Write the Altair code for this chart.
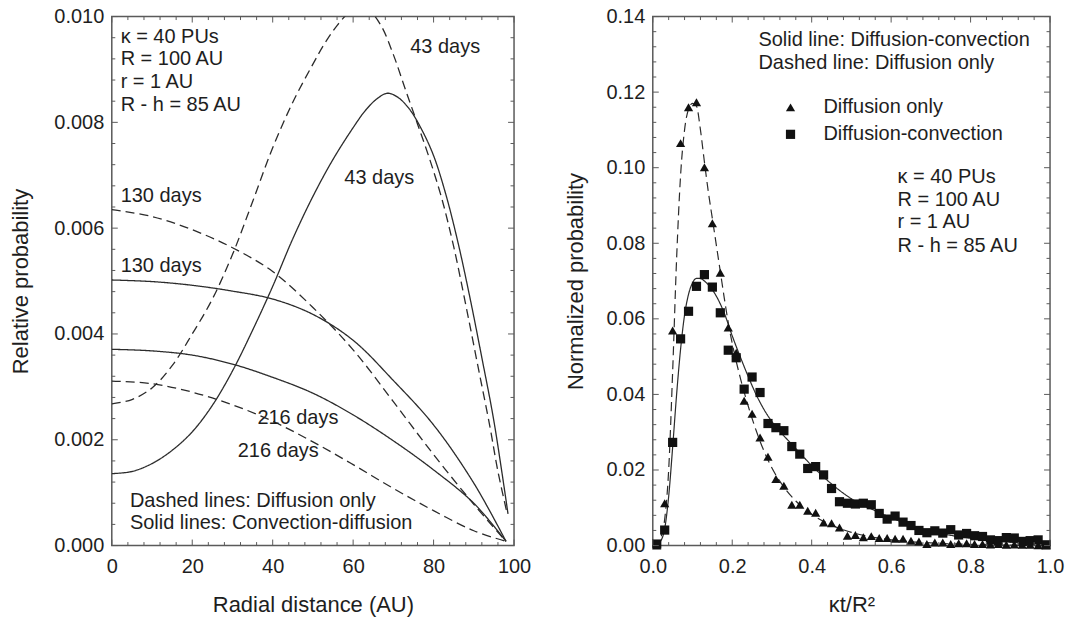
import altair as alt
import pandas as pd

FONT = "Liberation Sans"
LC = "#2b2b2b"   # line colour
TC = "#1e1e1e"   # text colour
AX = "#5a5a5a"   # frame / tick colour

# ---------------- left panel: relative probability vs radial distance ----------------
x_43s = [0, 5, 10, 15, 20, 25, 30, 35, 40, 45, 50, 55, 60, 63, 66, 68.5, 71, 74, 77, 80, 83, 86, 89, 92, 95, 98.5]
y_43s = [0.00136, 0.00140, 0.00155, 0.00180, 0.00215, 0.00265, 0.00330, 0.00407, 0.00490, 0.00580,
         0.00660, 0.00730, 0.00790, 0.00822, 0.00845, 0.00855, 0.00848, 0.00825, 0.00787, 0.00737,
         0.00665, 0.00575, 0.00470, 0.00355, 0.00235, 0.00060]

x_43d = [0, 5, 10, 15, 20, 25, 30, 35, 40, 45, 50, 53, 56, 59, 61.5, 64, 67, 70, 73, 76, 79, 82, 85,
         88, 91, 94, 96, 98.3]
y_43d = [0.00268, 0.00276, 0.00298, 0.00340, 0.00400, 0.00466, 0.00550, 0.00650, 0.00752, 0.00838,
         0.00910, 0.00950, 0.00983, 0.01008, 0.01020, 0.01012, 0.00982, 0.00928, 0.00862, 0.00797,
         0.00731, 0.00657, 0.00565, 0.00455, 0.00340, 0.00225, 0.00140, 0.00060]

x_long = [0, 10, 20, 30, 40, 50, 60, 70, 80, 90, 98]
y_130s = [0.00502, 0.00499, 0.00492, 0.00481, 0.00466, 0.00437, 0.00388, 0.00312, 0.00228, 0.00118, 0.00008]
y_130d = [0.00635, 0.00622, 0.00597, 0.00563, 0.00518, 0.00450, 0.00370, 0.00272, 0.00172, 0.00078, 0.00008]
y_216s = [0.00371, 0.00368, 0.00360, 0.00343, 0.00318, 0.00288, 0.00247, 0.00198, 0.00143, 0.00080, 0.00008]
y_216d = [0.00311, 0.00306, 0.00290, 0.00266, 0.00235, 0.00196, 0.00153, 0.00108, 0.00066, 0.00028, 0.00008]

left_text = ["κ = 40 PUs", "R = 100 AU", "r = 1 AU", "R - h = 85 AU",
             "43 days", "43 days", "130 days", "130 days", "216 days", "216 days",
             "Dashed lines: Diffusion only", "Solid lines: Convection-diffusion"]
left_tx = [2.2, 2.2, 2.2, 2.2, 74.2, 57.8, 2.2, 2.2, 36.2, 31.3, 4.5, 4.5]
left_ty = [0.00962, 0.00920, 0.00877, 0.00833, 0.00943, 0.00694, 0.00660, 0.00528,
           0.00241, 0.00179, 0.00085, 0.00042]

# ---------------- right panel: normalized probability vs kt/R^2 ----------------
t_pts = [0.01, 0.03, 0.05, 0.07, 0.09, 0.11, 0.13, 0.15, 0.17, 0.19,
         0.21, 0.23, 0.25, 0.27, 0.29, 0.31, 0.33, 0.35, 0.37, 0.39,
         0.41, 0.43, 0.45, 0.47, 0.49, 0.51, 0.53, 0.55, 0.57, 0.59,
         0.61, 0.63, 0.65, 0.67, 0.69, 0.71, 0.73, 0.75, 0.77, 0.79,
         0.81, 0.83, 0.85, 0.87, 0.89, 0.91, 0.93, 0.95, 0.97, 0.99]
p_diff = [0.0000, 0.0112, 0.0569, 0.1065, 0.1160, 0.1173, 0.1001, 0.0853, 0.0722, 0.0577,
          0.0510, 0.0383, 0.0349, 0.0286, 0.0235, 0.0176, 0.0158, 0.0108, 0.0108, 0.0092,
          0.0087, 0.0061, 0.0059, 0.0048, 0.0026, 0.0028, 0.0022, 0.0025, 0.0020, 0.0020,
          0.0018, 0.0018, 0.0013, 0.0011, 0.0004, 0.0008, 0.0008, 0.0004, 0.0006, 0.0006,
          0.0004, 0.0004, 0.0003, 0.0004, 0.0002, 0.0003, 0.0002, 0.0002, 0.0001, 0.0001]
p_conv = [0.0004, 0.0041, 0.0273, 0.0547, 0.0620, 0.0686, 0.0717, 0.0684, 0.0616, 0.0517,
          0.0497, 0.0414, 0.0446, 0.0405, 0.0323, 0.0312, 0.0304, 0.0262, 0.0242, 0.0204,
          0.0209, 0.0187, 0.0151, 0.0116, 0.0112, 0.0110, 0.0112, 0.0108, 0.0085, 0.0070,
          0.0078, 0.0062, 0.0053, 0.0040, 0.0034, 0.0039, 0.0033, 0.0042, 0.0028, 0.0032,
          0.0026, 0.0024, 0.0015, 0.0013, 0.0021, 0.0020, 0.0011, 0.0013, 0.0015, 0.0002]

t_dash = [0.0, 0.01, 0.02, 0.03, 0.04, 0.05, 0.06, 0.07, 0.08, 0.09, 0.10, 0.11, 0.12, 0.13,
          0.14, 0.15, 0.16, 0.17, 0.18, 0.19, 0.20, 0.22, 0.24, 0.26, 0.28, 0.30, 0.33, 0.36,
          0.40, 0.45, 0.50, 0.55, 0.60, 0.70, 0.80, 0.90, 1.0]
c_dash = [0.0, 0.0002, 0.002, 0.007, 0.020, 0.046, 0.076, 0.098, 0.110, 0.1155, 0.117, 0.1163,
          0.110, 0.1015, 0.0935, 0.0865, 0.0795, 0.0725, 0.0655, 0.059, 0.0535, 0.0445, 0.0370,
          0.0305, 0.0250, 0.0205, 0.0155, 0.0118, 0.0083, 0.0054, 0.0035, 0.0023, 0.0015,
          0.0007, 0.0003, 0.0001, 0.0]
t_sol = [0.0, 0.01, 0.02, 0.03, 0.04, 0.05, 0.06, 0.07, 0.08, 0.09, 0.10, 0.11, 0.12, 0.13,
         0.14, 0.16, 0.18, 0.20, 0.22, 0.24, 0.26, 0.28, 0.30, 0.32, 0.35, 0.40, 0.45, 0.50,
         0.55, 0.60, 0.65, 0.70, 0.75, 0.80, 0.85, 0.90, 0.95, 1.0]
c_sol = [0.0, 0.0002, 0.0012, 0.0045, 0.013, 0.026, 0.040, 0.052, 0.061, 0.0665, 0.0695, 0.0707,
         0.0707, 0.0700, 0.0690, 0.0660, 0.0615, 0.0555, 0.0500, 0.0448, 0.0400, 0.0360, 0.0328,
         0.0302, 0.0268, 0.0212, 0.0163, 0.0124, 0.0097, 0.0074, 0.0053, 0.0038, 0.0027,
         0.0019, 0.0013, 0.0009, 0.0006, 0.0004]

right_text = ["Solid line: Diffusion-convection", "Dashed line: Diffusion only",
              "κ = 40 PUs", "R = 100 AU", "r = 1 AU", "R - h = 85 AU"]
right_tx = [0.266, 0.266, 0.616, 0.616, 0.616, 0.616]
right_ty = [0.1338, 0.1277, 0.0975, 0.0915, 0.0855, 0.0794]

series_names = ["Diffusion only", "Diffusion-convection"]

# tick positions
lx_major = [0, 20, 40, 60, 80, 100]
lx_minor = [v for v in range(0, 101, 4) if v % 20 != 0]
ly_major = [0.0, 0.002, 0.004, 0.006, 0.008, 0.010]
ly_minor = [round(i * 0.0004, 5) for i in range(26) if i % 5 != 0]
rx_major = [0.0, 0.2, 0.4, 0.6, 0.8, 1.0]
rx_minor = [round(i * 0.04, 3) for i in range(26) if i % 5 != 0]
ry_major = [0.0, 0.02, 0.04, 0.06, 0.08, 0.10, 0.12, 0.14]
ry_minor = [round(i * 0.004, 4) for i in range(36) if i % 5 != 0]

LW, RW, H = 403, 398, 530

axis_common = dict(ticks=False, domain=False, grid=False, labelFlush=False, labelFont=FONT,
                   labelFontSize=20, labelColor=TC, titleFont=FONT, titleFontSize=22,
                   titleColor=TC, titleFontWeight="normal")


def curves(spec):
    rows = []
    for name, style, xs, ys in spec:
        for a, b in zip(xs, ys):
            rows.append({"x": a, "y": b, "curve": name, "style": style})
    return pd.DataFrame(rows)


def tick_layers(xmaj, xmin, ymaj, ymin, W, sx, sy, ax, ay):
    out = []
    for vals, L in ((xmaj, 6), (xmin, 3.5)):
        d = pd.DataFrame({"v": vals})
        b = alt.Chart(d).mark_rule(color=AX, strokeWidth=1)
        out.append(b.encode(x=alt.X("v:Q", scale=sx, axis=ax), y=alt.value(H), y2=alt.value(H - L)))
        out.append(b.encode(x=alt.X("v:Q", scale=sx, axis=ax), y=alt.value(0), y2=alt.value(L)))
    for vals, L in ((ymaj, 6), (ymin, 3.5)):
        d = pd.DataFrame({"v": vals})
        b = alt.Chart(d).mark_rule(color=AX, strokeWidth=1)
        out.append(b.encode(y=alt.Y("v:Q", scale=sy, axis=ay), x=alt.value(0), x2=alt.value(L)))
        out.append(b.encode(y=alt.Y("v:Q", scale=sy, axis=ay), x=alt.value(W), x2=alt.value(W - L)))
    return out


dash_scale = alt.Scale(domain=["solid", "dashed"], range=[[1, 0], [9, 5]])

# ---------- left chart ----------
sxL = alt.Scale(domain=[0, 100], nice=False, zero=False, padding=0)
syL = alt.Scale(domain=[0, 0.010], nice=False, padding=0)
axL_x = alt.Axis(title="Radial distance (AU)", values=lx_major, format="d",
                 labelPadding=11, titlePadding=18, **axis_common)
axL_y = alt.Axis(title="Relative probability", values=ly_major, format=".3f",
                 labelPadding=8, titlePadding=21, **axis_common)

left_df = curves([
    ("43s", "solid", x_43s, y_43s), ("43d", "dashed", x_43d, y_43d),
    ("130s", "solid", x_long, y_130s), ("130d", "dashed", x_long, y_130d),
    ("216s", "solid", x_long, y_216s), ("216d", "dashed", x_long, y_216d),
])

left_lines = alt.Chart(left_df).mark_line(clip=True, color=LC, strokeWidth=1.3,
                                          interpolate="catmull-rom").encode(
    x=alt.X("x:Q", scale=sxL, axis=axL_x),
    y=alt.Y("y:Q", scale=syL, axis=axL_y),
    detail="curve:N",
    strokeDash=alt.StrokeDash("style:N", scale=dash_scale, legend=None),
)

left_txt = alt.Chart(pd.DataFrame({"t": left_text, "x": left_tx, "y": left_ty})).mark_text(
    align="left", baseline="middle", font=FONT, fontSize=20, color=TC
).encode(x=alt.X("x:Q", scale=sxL, axis=axL_x), y=alt.Y("y:Q", scale=syL, axis=axL_y), text="t:N")

left = alt.layer(left_lines, left_txt,
                 *tick_layers(lx_major, lx_minor, ly_major, ly_minor, LW, sxL, syL, axL_x, axL_y)
                 ).properties(width=LW, height=H)

# ---------- right chart ----------
sxR = alt.Scale(domain=[0, 1], nice=False, padding=0)
syR = alt.Scale(domain=[0, 0.14], nice=False, padding=0)
axR_x = alt.Axis(title="κt/R²", values=rx_major, format=".1f",
                 labelPadding=11, titlePadding=18, **axis_common)
axR_y = alt.Axis(title="Normalized probability", values=ry_major, format=".2f",
                 labelPadding=8, titlePadding=18, **axis_common)

right_df = curves([("dash", "dashed", t_dash, c_dash), ("sol", "solid", t_sol, c_sol)])
pts_df = pd.DataFrame({
    "x": t_pts + t_pts,
    "y": p_diff + p_conv,
    "series": [series_names[0]] * len(t_pts) + [series_names[1]] * len(t_pts),
})

right_lines = alt.Chart(right_df).mark_line(clip=True, color=LC, strokeWidth=1.2, interpolate="monotone").encode(
    x=alt.X("x:Q", scale=sxR, axis=axR_x),
    y=alt.Y("y:Q", scale=syR, axis=axR_y),
    detail="curve:N",
    strokeDash=alt.StrokeDash("style:N", scale=dash_scale, legend=None),
)

right_pts = alt.Chart(pts_df).mark_point(filled=True, color="#111111", opacity=1, size=85).encode(
    x=alt.X("x:Q", scale=sxR, axis=axR_x),
    y=alt.Y("y:Q", scale=syR, axis=axR_y),
    shape=alt.Shape("series:N", scale=alt.Scale(domain=series_names, range=["triangle-up", "square"]),
                    legend=alt.Legend(title=None, orient="none", legendX=128, legendY=81,
                                      labelFont=FONT, labelFontSize=20, labelColor=TC, labelLimit=0,
                                      symbolSize=85, symbolFillColor="#111111", symbolStrokeColor="#111111",
                                      symbolStrokeWidth=0, labelOffset=23, rowPadding=7, padding=0)),
)

right_txt = alt.Chart(pd.DataFrame({"t": right_text, "x": right_tx, "y": right_ty})).mark_text(
    align="left", baseline="middle", font=FONT, fontSize=20, color=TC
).encode(x=alt.X("x:Q", scale=sxR, axis=axR_x), y=alt.Y("y:Q", scale=syR, axis=axR_y), text="t:N")

right = alt.layer(right_lines, right_pts, right_txt,
                  *tick_layers(rx_major, rx_minor, ry_major, ry_minor, RW, sxR, syR, axR_x, axR_y)
                  ).properties(width=RW, height=H)

chart = alt.hconcat(left, right, spacing=32).resolve_scale(shape="independent").resolve_legend(
    shape="independent"
).properties(
    padding={"left": 9, "top": 5, "right": 5, "bottom": 5},
    background="white",
).configure_view(stroke=AX, strokeWidth=1.5)

chart.save("out.html", embed_options={"renderer": "svg", "actions": False})
